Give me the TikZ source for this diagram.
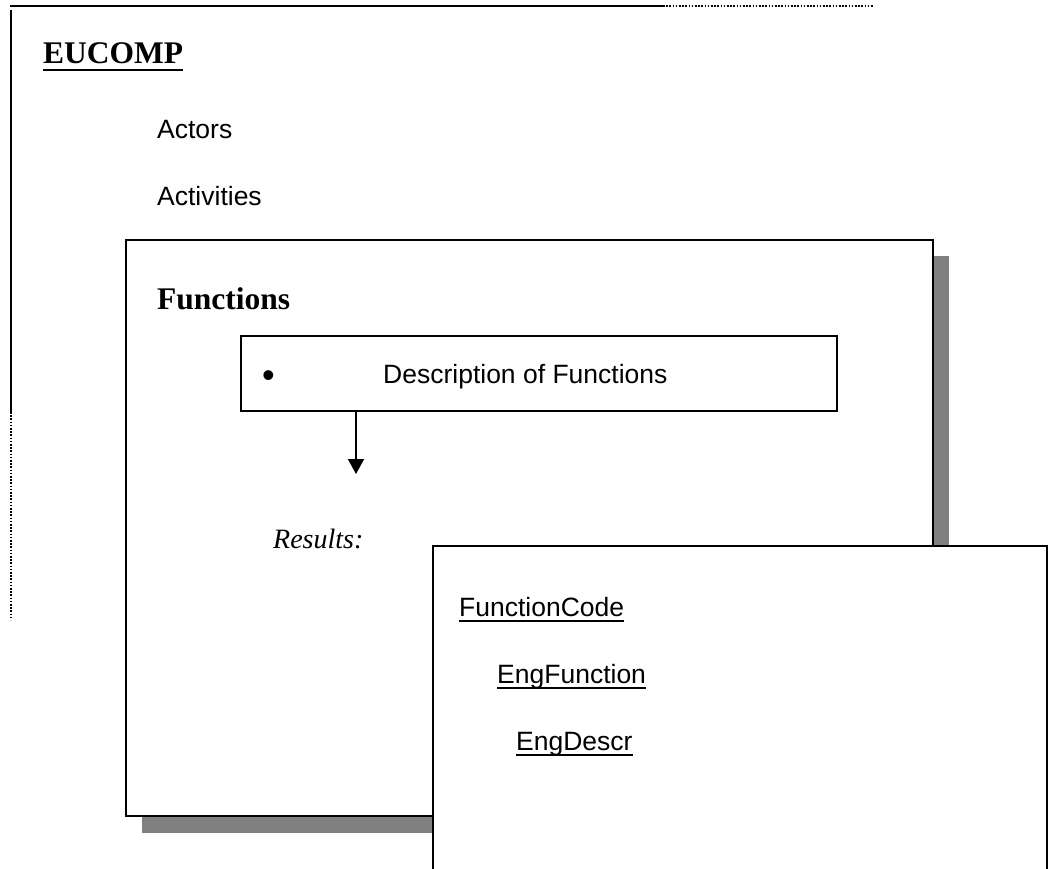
\documentclass[tikz,border=0pt]{standalone}
\usepackage{fontspec}
\setmainfont{Liberation Serif}
\newfontfamily\arialf{Liberation Sans}
\usetikzlibrary{arrows.meta}
\definecolor{shadowgray}{RGB}{128,128,128}
\tikzset{
  frameline/.style={line width=1.6pt, black},
  dotline/.style={line width=1.8pt, black, dash pattern=on 1.6pt off 1.6pt},
  boxline/.style={line width=1.8pt, black},
  shadowfill/.style={fill=shadowgray, draw=none},
  sanslabel/.style={inner sep=0pt, anchor=base west, font=\arialf\fontsize{26.5}{30}\selectfont},
  bulletlabel/.style={inner sep=0pt, anchor=base west, font=\arialf\fontsize{36}{40}\selectfont},
  seriftitle/.style={inner sep=0pt, anchor=base west, font=\bfseries\fontsize{31.5}{36}\selectfont},
  italabel/.style={inner sep=0pt, anchor=base west, font=\itshape\fontsize{28}{32}\selectfont},
  ulinethick/.style={line width=2.8pt},
  ulinethin/.style={line width=1.6pt},
  arrowline/.style={line width=1.5pt, -{Triangle[length=15pt,width=16pt]}}
}
\begin{document}
\begin{tikzpicture}[x=1pt,y=-1pt]
\useasboundingbox (0,0) rectangle (1049,869);
% outer frame fragments
\coordinate (tl) at (10,6);
\coordinate (tm) at (663,6);
\coordinate (tr) at (873,6);
\coordinate (lt) at (11,10);
\coordinate (lm) at (11,412);
\coordinate (lb) at (11,620);
\draw[frameline] (tl) -- (tm);
\draw[dotline] (tm) -- (tr);
\draw[frameline] (lt) -- (lm);
\draw[dotline] (lm) -- (lb);
% title and items
\node[seriftitle] (eucomp) at (43,64) {EUCOMP};
\draw[ulinethick] ([yshift=-6pt]eucomp.base west) -- ([yshift=-6pt]eucomp.base east);
\node[sanslabel] (actors) at (157,139) {Actors};
\node[sanslabel] (activities) at (157,205) {Activities};
% Functions box with shadow
\fill[shadowfill] (934,256) rectangle (949,833);
\fill[shadowfill] (142,817) rectangle (949,833);
\draw[boxline, fill=white] (126,240) rectangle (933,816);
\node[seriftitle] (functions) at (157,309) {Functions};
% description box
\draw[boxline] (241,336) rectangle (837,411);
\node[bulletlabel] (bullet) at (262,387) {\textbullet};
\node[sanslabel] (descr) at (383,383) {Description of Functions};
\coordinate (arrstart) at (356,412);
\coordinate (arrend) at (356,474);
\draw[arrowline] (arrstart) -- (arrend);
\node[italabel] (results) at (273,548) {Results:};
% front box
\fill[white] (433,546) rectangle (1047,869);
\draw[boxline] (433,880) -- (433,546) -- (1047,546) -- (1047,880);
\node[sanslabel] (fcode) at (459,616) {FunctionCode};
\draw[ulinethin] ([yshift=-5pt]fcode.base west) -- ([yshift=-5pt]fcode.base east);
\node[sanslabel] (engf) at (497,683) {EngFunction};
\draw[ulinethin] ([yshift=-5pt]engf.base west) -- ([yshift=-5pt]engf.base east);
\node[sanslabel] (engd) at (516,750) {EngDescr};
\draw[ulinethin] ([yshift=-5pt]engd.base west) -- ([yshift=-5pt]engd.base east);
\end{tikzpicture}
\end{document}
